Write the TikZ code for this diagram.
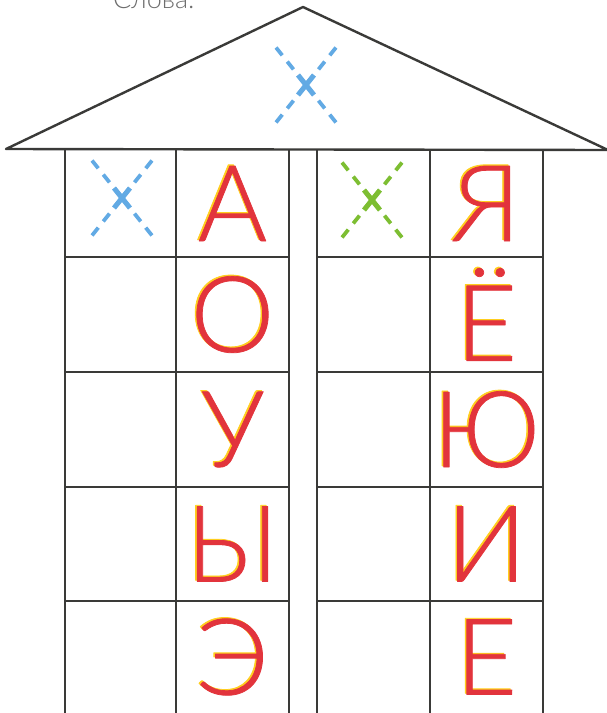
\documentclass[tikz,border=0pt]{standalone}
\usepackage{fontspec}
\newfontfamily\vowelfont[FakeBold=0.7]{Lato Light}
\newfontfamily\titlefont{Lato Light}
\usetikzlibrary{calc}
\definecolor{hswall}{HTML}{3A3A38}
\definecolor{hsred}{HTML}{E2343C}
\definecolor{hsyellow}{HTML}{FFCE1F}
\definecolor{hsblue}{HTML}{62AAE4}
\definecolor{hsgreen}{HTML}{7DBE32}
\definecolor{hsgray}{HTML}{6E6E6E}
\tikzset{
  every picture/.style={line join=round},
  wall/.style={draw=hswall, line width=2.4pt},
  vowel/.style={font=\vowelfont\fontsize{106}{106}\selectfont, text=hsred, inner sep=0pt},
  vowelshade/.style={vowel, text=hsyellow},
  crossmark/.style={line width=3.8pt, line cap=butt,
    dash pattern=on 10pt off 8pt on 10pt off 8pt on 24pt off 8pt on 10pt off 8pt on 10pt},
  heading/.style={font=\titlefont\fontsize{27}{27}\selectfont, text=hsgray, inner sep=0pt},
}
% dashed cross: #1 centre, #2 colour
\newcommand\dashcross[2]{%
  \draw[crossmark, draw=#2] ($(#1)+(-30,-37.5)$) -- ($(#1)+(30,37.5)$);
  \draw[crossmark, draw=#2] ($(#1)+(30,-37.5)$) -- ($(#1)+(-30,37.5)$);
  \draw[draw=#2, line width=5pt] ($(#1)+(-8,-10)$) -- ($(#1)+(8,10)$);
  \draw[draw=#2, line width=5pt] ($(#1)+(8,-10)$) -- ($(#1)+(-8,10)$);}

\begin{document}
\begin{tikzpicture}[x=1pt, y=-1pt]
\useasboundingbox (0,0) rectangle (607,713);

\node[heading, anchor=base west] (title) at (113,8) {Слова.};

% ---- Roof
\coordinate (apex)  at (303,7);
\coordinate (eaveL) at (6,149);
\coordinate (eaveR) at (608,150);
\draw[wall] (eaveL) -- (apex) -- (eaveR) -- cycle;

% ---- Two blocks of cells
\foreach \xl/\xm/\xr in {65/176/289, 317/430/543} {
  \foreach \x in {\xl, \xm, \xr}
    \draw[wall] (\x,150) -- (\x,714);
  \foreach \y in {257, 372, 487, 601}
    \draw[wall] (\xl,\y) -- (\xr,\y);
}

% ---- Sound marks
\coordinate (roofx)  at (306,85);
\coordinate (leftx)  at (122,198);
\coordinate (rightx) at (372,200);
\dashcross{roofx}{hsblue}
\dashcross{leftx}{hsblue}
\dashcross{rightx}{hsgreen}

% ---- Vowels (yellow print shifted under the red)
\foreach \ch/\y [count=\r] in {А/203.5, О/314.5, У/429.5, Ы/544, Э/657} {
  \node[vowelshade] (hard\r-sh) at (230.9,\y-1.2) {\ch};
  \node[vowel] (hard\r) at (232.5,\y) {\ch};
}
\foreach \ch/\y [count=\r] in {Я/203.5, Ё/314.5, Ю/429.5, И/544, Е/657} {
  \node[vowelshade] (soft\r-sh) at (484.9,\y-1.2) {\ch};
  \node[vowel] (soft\r) at (486.5,\y) {\ch};
}

\end{tikzpicture}
\end{document}
